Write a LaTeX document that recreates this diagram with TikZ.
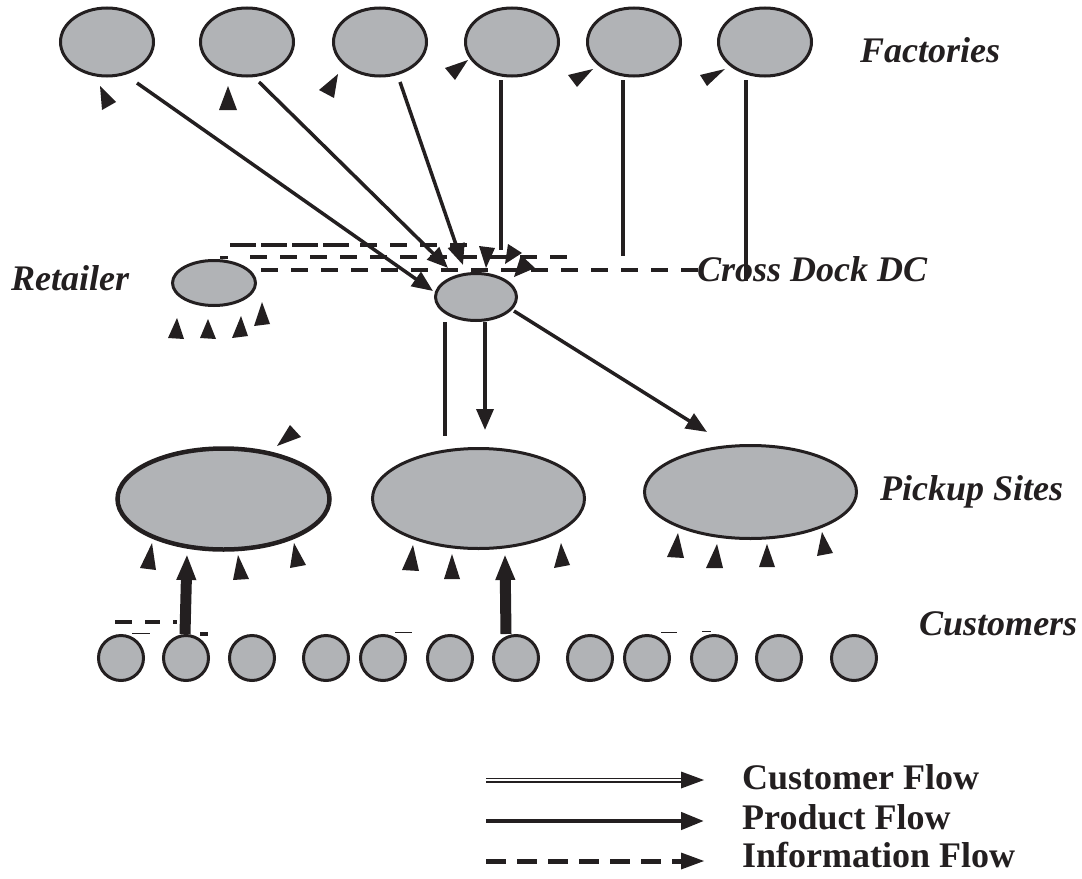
\documentclass[tikz,border=0pt]{standalone}
\usepackage{fontspec}
\setmainfont{Liberation Serif}
\usetikzlibrary{arrows.meta,shapes.geometric}
\definecolor{ink}{HTML}{231F20}
\definecolor{fillg}{HTML}{B1B3B6}
\begin{document}
\begin{tikzpicture}[x=1bp,y=-1bp,
  site/.style={ellipse, draw=ink, fill=fillg, line width=3bp, inner sep=0pt},
  cust/.style={circle, draw=ink, fill=fillg, line width=3bp, inner sep=0pt, minimum size=45bp},
  lab/.style={font=\fontsize{36bp}{40bp}\selectfont\bfseries\itshape, text=ink, anchor=base west, inner sep=0pt},
  leg/.style={font=\fontsize{36bp}{40bp}\selectfont\bfseries, text=ink, anchor=base west, inner sep=0pt},
  prod/.style={draw=ink, line width=3.5bp},
  parr/.style={prod, -{Triangle[length=21bp,width=17bp]}},
  info/.style={draw=ink, line width=4bp, dash pattern=on 17bp off 13bp},
  bigarr/.style={draw=ink, line width=11bp, -{Triangle[length=26bp,width=18bp]}},
  head/.style={fill=ink}
]
\useasboundingbox (0,0) rectangle (1082,879);

% Factories
\node[site, minimum width=93bp, minimum height=68bp] (f1) at (107,42) {};
\node[site, minimum width=93bp, minimum height=68bp] (f2) at (247,42) {};
\node[site, minimum width=93bp, minimum height=68bp] (f3) at (380,42) {};
\node[site, minimum width=93bp, minimum height=68bp] (f4) at (512,42) {};
\node[site, minimum width=93bp, minimum height=68bp] (f5) at (634,42) {};
\node[site, minimum width=93bp, minimum height=68bp] (f6) at (765,42) {};
\node[lab] (tfac) at (860,62) {Factories};

% Retailer and cross dock
\node[site, minimum width=83bp, minimum height=45bp] (ret) at (214,283) {};
\node[lab] (tret) at (11,290) {Retailer};
\node[site, minimum width=81bp, minimum height=47bp] (cd) at (476,297) {};

% Information flow (dashed)
\draw[info, dash pattern=on 26bp off 5bp] (230,245) -- (352,245);
\draw[info] (360,245) -- (470,245);
\draw[info] (250,257) -- (578,257);
\draw[info] (261,270) -- (711,270);
\fill[ink] (220,256) rectangle (228,259);

\node[lab] (tcd) at (697,281) {Cross Dock DC};

% factory connectors
\coordinate (f1o) at (137,83);  \coordinate (f1i) at (433,291);
\coordinate (f2o) at (259,82);  \coordinate (f2i) at (448,268);
\coordinate (f3o) at (400,82);  \coordinate (f3i) at (463,265);
\coordinate (f4o) at (501,80);  \coordinate (f4i) at (501,250);
\coordinate (f5o) at (623,80);  \coordinate (f5i) at (623,256);
\coordinate (f6o) at (746,80);  \coordinate (f6i) at (746,281);
\draw[parr] (f1o) -- (f1i);
\draw[parr] (f2o) -- (f2i);
\draw[parr] (f3o) -- (f3i);
\draw[prod] (f4o) -- (f4i);
\draw[prod] (f5o) -- (f5i);
\draw[prod] (f6o) -- (f6i);

% loose arrowheads at factories
\fill[head] (100,86) -- (116,102) -- (102,110) -- cycle;
\fill[head] (228,86) -- (237,110) -- (219,110) -- cycle;
\fill[head] (338,74) -- (334,98) -- (319,90) -- cycle;
\fill[head] (468,60) -- (455,80) -- (445,68) -- cycle;
\fill[head] (593,69) -- (577,87) -- (568,75) -- cycle;
\fill[head] (725,69) -- (707,86) -- (700,75) -- cycle;

% loose arrowheads at cross dock
\fill[head] (479,246) -- (495,248) -- (486,268) -- cycle;
\fill[head] (508,244) -- (522,253) -- (505,264) -- cycle;
\fill[head] (521,255) -- (535,268) -- (514,277) -- cycle;

% loose arrowheads at retailer
\fill[head] (168,338) -- (177,318) -- (184,339) -- cycle;
\fill[head] (200,338) -- (208,319) -- (216,339) -- cycle;
\fill[head] (232,338) -- (241,316) -- (248,336) -- cycle;
\fill[head] (254,326) -- (262,302) -- (270,324) -- cycle;

% Pickup sites
\node[site, line width=4.5bp, minimum width=212bp, minimum height=101bp] (p1) at (223.5,499) {};
\node[site, minimum width=212bp, minimum height=100bp] (p2) at (478.5,498.5) {};
\node[site, minimum width=212bp, minimum height=93bp] (p3) at (750.5,492) {};
\node[lab] (tps) at (880,500) {Pickup Sites};

% cross dock to pickup sites
\coordinate (cda) at (445,322); \coordinate (cdb) at (445,436);
\coordinate (cdc) at (485,322); \coordinate (cdd) at (485,430);
\coordinate (cde) at (514,311); \coordinate (cdf) at (707,432);
\draw[prod] (cda) -- (cdb);
\draw[parr] (cdc) -- (cdd);
\draw[parr] (cde) -- (cdf);

% loose arrowheads at pickup sites
\fill[head] (290,425) -- (301,437) -- (277,446) -- cycle;
\fill[head] (140,568) -- (152,543) -- (156,570) -- cycle;
\fill[head] (233,580) -- (238,555) -- (249,579) -- cycle;
\fill[head] (290,568) -- (294,543) -- (306,565) -- cycle;
\fill[head] (402,570) -- (413,545) -- (419,571) -- cycle;
\fill[head] (444,579) -- (452,554) -- (460,579) -- cycle;
\fill[head] (554,568) -- (561,543) -- (570,565) -- cycle;
\fill[head] (667,557) -- (678,533) -- (684,558) -- cycle;
\fill[head] (706,568) -- (717,544) -- (723,568) -- cycle;
\fill[head] (759,567) -- (767,544) -- (775,567) -- cycle;
\fill[head] (817,556) -- (822,532) -- (833,553) -- cycle;

% Customers
\node[cust] (c1) at (121,658) {};
\node[cust] (c2) at (186,658) {};
\node[cust] (c3) at (252,658) {};
\node[cust] (c4) at (326,658) {};
\node[cust] (c5) at (383,658) {};
\node[cust] (c6) at (450,658) {};
\node[cust] (c7) at (516,658) {};
\node[cust] (c8) at (590,658) {};
\node[cust] (c9) at (647,658) {};
\node[cust] (c10) at (714,658) {};
\node[cust] (c11) at (779,658) {};
\node[cust] (c12) at (854,658) {};
\node[lab] (tcu) at (919,635) {Customers};

% customer arrows to pickup sites
\coordinate (c2o) at (185,634); \coordinate (p1i) at (187,554);
\coordinate (c7o) at (506,634); \coordinate (p2i) at (505,554);
\draw[bigarr] (c2o) -- (p1i);
\draw[bigarr] (c7o) -- (p2i);

% small leftover marks above customers
\draw[ink, line width=3.5bp] (115,622) -- (132,622) (145,622) -- (160,622) (173,622) -- (177,622);
\draw[ink, line width=1bp] (132,633) -- (150,633) (395,632) -- (412,632) (661,632) -- (677,632) (702,631) -- (711,631);
\fill[ink] (200,632) rectangle (208,636);

% Legend
\coordinate (l1a) at (486,780); \coordinate (l1b) at (683,780); \coordinate (l1c) at (704,780);
\coordinate (l2a) at (486,821); \coordinate (l2b) at (704,821);
\coordinate (l3a) at (486,861); \coordinate (l3b) at (704,861);
\draw[draw=ink, line width=5bp] (l1a) -- (l1b);
\draw[draw=white, line width=2bp] (l1a) -- (l1b);
\fill[head] (681,771.5) -- (l1c) -- (681,788.5) -- cycle;
\draw[draw=ink, line width=4.5bp, -{Triangle[length=23bp,width=17bp]}] (l2a) -- (l2b);
\draw[draw=ink, line width=5bp, dash pattern=on 20bp off 11bp] (l3a) -- (682,861);
\fill[head] (681,852.5) -- (l3b) -- (681,869.5) -- cycle;
\node[leg] (tl1) at (742,789) {Customer Flow};
\node[leg] (tl2) at (742,829) {Product Flow};
\node[leg] (tl3) at (742,867) {Information Flow};
\end{tikzpicture}
\end{document}
